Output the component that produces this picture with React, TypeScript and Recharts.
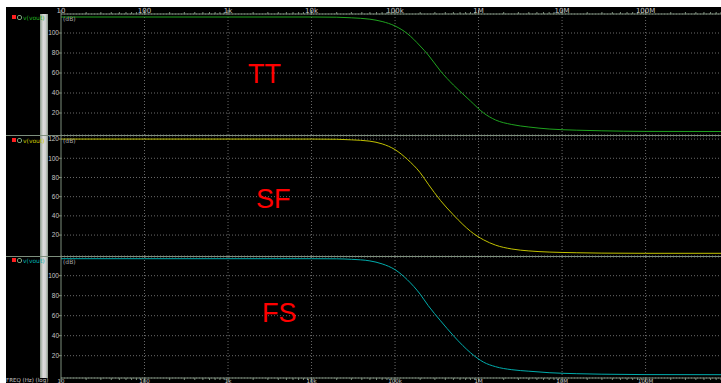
import React from 'react';
import { LineChart, Line, XAxis, YAxis, CartesianGrid, ReferenceLine } from 'recharts';

// frequency sweep (Hz) and magnitude in dB for the three corners
const freq = [10, 100, 1e3, 1e4, 2e4, 3e4, 5e4, 7e4, 1e5, 1.4e5, 2e5, 2.5e5, 3.5e5, 5e5, 6.5e5, 8e5, 1.15e6, 1.6e6, 2.5e6, 4e6, 7e6, 1.5e7, 3e7, 1e8, 8e8];
const ttDb = [116, 116, 116, 116, 115.8, 115.2, 113.8, 111.5, 107, 99.5, 87, 78, 62, 48, 39, 32, 20, 13, 8.5, 6, 4, 2.8, 2.2, 1.6, 1.5];
const sfDb = [120, 120, 120, 120, 119.8, 119.2, 117.8, 115, 109, 99, 85, 73, 56, 41, 31, 24, 15, 9.5, 5.5, 3.5, 2.3, 1.6, 1.2, 1, 1];
const fsDb = [117, 117, 117, 117, 116.9, 116.4, 114.8, 111.8, 106, 96, 81.5, 70, 55, 40, 30, 23, 13.5, 9, 6, 4.5, 3, 2, 1.5, 1.1, 1];

const decades = [10, 100, 1e3, 1e4, 1e5, 1e6, 1e7, 1e8];
const decadeLabels = ['10', '100', '1k', '10k', '100k', '1M', '10M', '100M'];
const dbTicks = [20, 40, 60, 80, 100];
const dbTicksSF = [20, 40, 60, 80, 100, 120];

const X_MAX = 8e8;
const xTicks: number[] = [];
decades.forEach((d) => {
  for (let m = 1; m <= 9; m++) {
    if (d * m <= X_MAX) xTicks.push(d * m);
  }
});

const rows = freq.map((f, i) => ({ f, tt: ttDb[i], sf: sfDb[i], fs: fsDb[i] }));

const AXIS = '#7d8f7d';
const GRID = '#6a6a6a';
const LABEL = '#c4c4c4';

const FreqTick = (props: any) => {
  const { x, y, payload, orientation } = props;
  const idx = decades.indexOf(payload.value);
  const major = idx >= 0;
  const dir = orientation === 'top' ? -1 : 1;
  const len = major ? 4 : 2;
  return (
    <g>
      <line x1={x} x2={x} y1={y} y2={y + dir * len} stroke={AXIS} />
      {major && (
        <text
          x={x}
          y={orientation === 'top' ? y - 1 : y + 5}
          textAnchor="middle"
          fill={LABEL}
          fontSize={orientation === 'top' ? 7 : 5.5}
          fontFamily="DejaVu Sans"
        >
          {decadeLabels[idx]}
        </text>
      )}
    </g>
  );
};

interface PanelProps {
  top: number;
  height: number;
  dataKey: string;
  color: string;
  domain: [number, number];
  ticks: number[];
  axis: 'top' | 'bottom' | 'none';
}

function Panel({ top, height, dataKey, color, domain, ticks, axis }: PanelProps) {
  return (
    <div style={{ position: 'absolute', left: 6, top }}>
      <LineChart width={715} height={height} data={rows} margin={{ top: 0, right: 0, bottom: 0, left: 0 }}>
        <CartesianGrid vertical={false} stroke={GRID} strokeDasharray="1 2" />
        <XAxis
          dataKey="f"
          type="number"
          scale="log"
          domain={[10, X_MAX]}
          allowDataOverflow
          ticks={xTicks}
          interval={0}
          orientation={axis === 'top' ? 'top' : 'bottom'}
          hide={axis === 'none'}
          height={axis === 'none' ? 0 : axis === 'top' ? 7 : 5}
          stroke={AXIS}
          tickLine={false}
          tickSize={0}
          tickMargin={0}
          tick={<FreqTick orientation={axis} />}
        />
        <YAxis
          type="number"
          domain={domain}
          allowDataOverflow
          ticks={ticks}
          interval={0}
          width={55}
          stroke={AXIS}
          tickSize={2}
          tickMargin={0}
          tick={{ fill: LABEL, fontSize: 6.5, fontFamily: 'Liberation Sans' }}
        />
        {decades.slice(1).map((d) => (
          <ReferenceLine key={d} x={d} stroke={GRID} strokeDasharray="1 2" />
        ))}
        <Line
          dataKey={dataKey}
          type="monotone"
          stroke={color}
          strokeWidth={1}
          dot={false}
          isAnimationActive={false}
        />
      </LineChart>
    </div>
  );
}

const legendRows = [
  { top: 14, color: '#22b022' },
  { top: 137, color: '#c8c800' },
  { top: 257, color: '#00b0b0' },
];

const bigLabels = [
  { text: 'TT', left: 248, top: 61 },
  { text: 'SF', left: 256, top: 186 },
  { text: 'FS', left: 262, top: 300 },
];

export default function App() {
  return (
    <div style={{ position: 'absolute', left: 0, top: 0, width: 721, height: 383, background: '#fff', overflow: 'hidden' }}>
      <div style={{ position: 'absolute', left: 6, top: 7, width: 715, height: 376, background: '#000' }} />
      {/* scroll bar strip */}
      <div
        style={{
          position: 'absolute',
          left: 40,
          top: 14,
          width: 8,
          height: 364,
          background: 'linear-gradient(to right, #8a9a8a, #dcdcdc 40%, #d0d0d0 70%, #8a9a8a)',
        }}
      />
      <Panel top={7} height={128} dataKey="tt" color="#1fa31f" domain={[-2, 119]} ticks={dbTicks} axis="top" />
      <Panel top={136} height={120} dataKey="sf" color="#c2c200" domain={[-1.8, 123.2]} ticks={dbTicksSF} axis="none" />
      <Panel top={257} height={126} dataKey="fs" color="#00acac" domain={[-2.3, 118.7]} ticks={dbTicks} axis="bottom" />
      {/* panel separators */}
      {[135, 256].map((y) => (
        <div key={y} style={{ position: 'absolute', left: 6, top: y, width: 715, height: 1, background: AXIS }} />
      ))}
      {legendRows.map((r, i) => (
        <div key={i} style={{ position: 'absolute', left: 12, top: r.top, height: 6, display: 'flex', alignItems: 'center', fontFamily: 'DejaVu Sans', fontSize: 6 }}>
          <span style={{ width: 4, height: 4, background: '#ff2020', marginRight: 1 }} />
          <span style={{ width: 3, height: 3, borderRadius: 2, border: '1px solid #7aa07a', marginRight: 1 }} />
          <span style={{ color: r.color }}>v(vout)</span>
        </div>
      ))}
      {[15, 137, 258].map((y) => (
        <div key={y} style={{ position: 'absolute', left: 63, top: y, fontFamily: 'DejaVu Sans', fontSize: 6, color: '#a8a8a8' }}>
          (dB)
        </div>
      ))}
      <div style={{ position: 'absolute', left: 6, top: 377.5, fontFamily: 'DejaVu Sans', fontSize: 5.5, lineHeight: 1, color: '#c8c8c8', whiteSpace: 'nowrap' }}>
        FREQ (Hz) (log)
      </div>
      {bigLabels.map((l) => (
        <div key={l.text} style={{ position: 'absolute', left: l.left, top: l.top, fontFamily: 'Liberation Sans', fontSize: 27, lineHeight: 1, color: '#ff0000' }}>
          {l.text}
        </div>
      ))}
    </div>
  );
}
